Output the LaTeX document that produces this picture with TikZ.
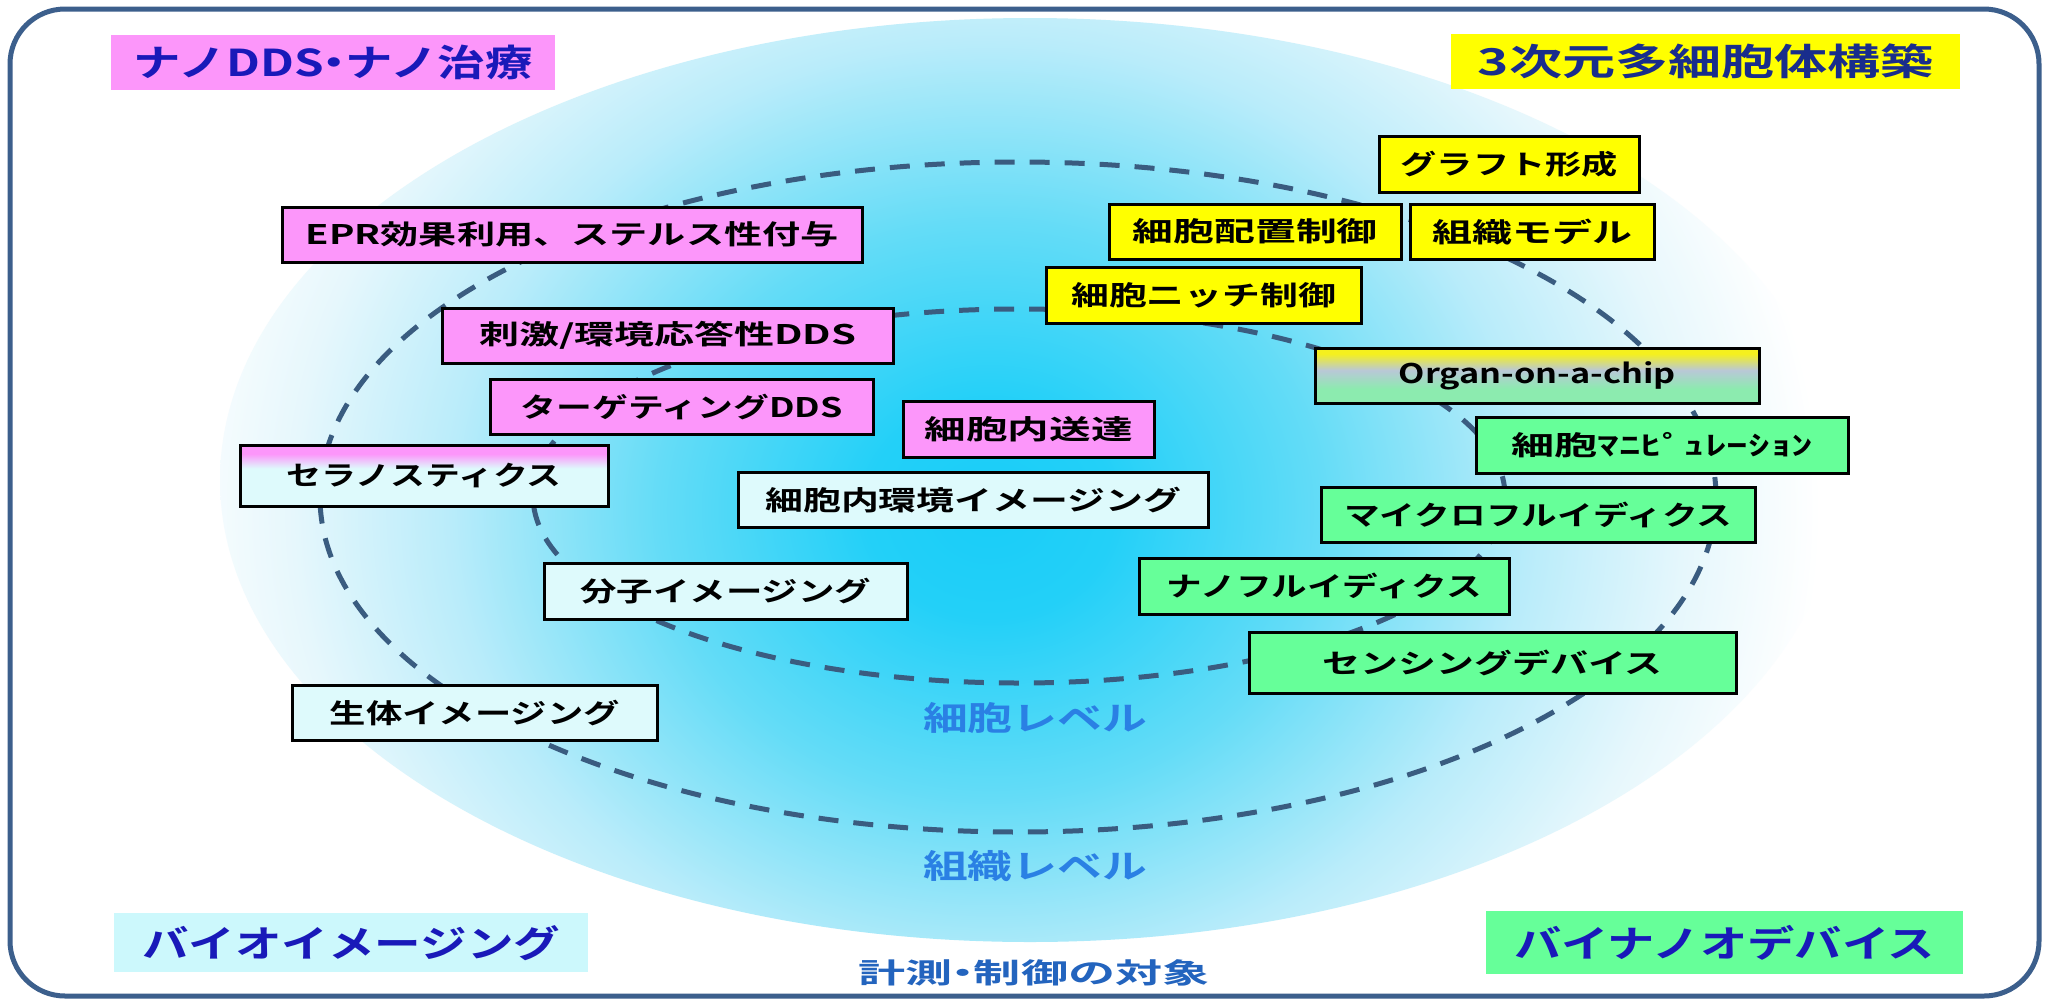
\documentclass[tikz,border=0pt]{standalone}
\usepackage{fontspec}
\setmainfont{Noto Sans CJK JP}[BoldFont={Noto Sans CJK JP Bold}]
\usepackage{graphicx}
\definecolor{frameblue}{RGB}{60,95,140}
\definecolor{dashc}{RGB}{58,92,128}
\definecolor{pinkf}{RGB}{252,150,250}
\definecolor{yellowf}{RGB}{255,255,0}
\definecolor{greenf}{RGB}{102,255,153}
\definecolor{lcyanf}{RGB}{222,250,252}
\definecolor{labcyan}{RGB}{204,248,252}
\definecolor{navyA}{RGB}{25,25,185}
\definecolor{navyB}{RGB}{25,45,140}
\definecolor{levelblue}{RGB}{42,128,228}
\definecolor{keisoku}{RGB}{35,100,190}
\definecolor{glowA}{RGB}{25,205,248}
\definecolor{glowAA}{RGB}{35,208,248}
\definecolor{glowB}{RGB}{100,220,247}
\definecolor{glowC}{RGB}{185,236,250}
\definecolor{glowD}{RGB}{230,247,252}
\definecolor{orgY}{RGB}{245,240,30}
\definecolor{orgM}{RGB}{185,200,215}
\definecolor{orgG}{RGB}{140,235,175}
\pgfdeclareradialshading{glowshade}{\pgfpoint{0bp}{0bp}}{color(0bp)=(glowA); color(3.75bp)=(glowAA); color(10bp)=(glowB); color(16.25bp)=(glowC); color(21bp)=(glowD); color(25bp)=(white); color(50bp)=(white)}
\pgfdeclareverticalshading{seranoshade}{100bp}{color(0bp)=(lcyanf); color(56bp)=(lcyanf); color(68bp)=(pinkf); color(100bp)=(pinkf)}
\pgfdeclareverticalshading{organshade}{100bp}{color(0bp)=(orgG); color(38bp)=(orgG); color(55bp)=(orgM); color(70bp)=(orgY); color(100bp)=(orgY)}
\newcommand\fitw[2]{\resizebox{#1}{\height}{#2}}
\newcommand\nakaguro{\makebox[0.45em]{・}}
\tikzset{
  bx/.style={draw=black, line width=2.5pt, inner sep=0pt, anchor=north west, text=black,
    font=\fontsize{27}{30}\selectfont\bfseries},
  pinkbox/.style={bx, fill=pinkf},
  yellowbox/.style={bx, fill=yellowf},
  greenbox/.style={bx, fill=greenf},
  cyanbox/.style={bx, fill=lcyanf},
  corner/.style={inner sep=0pt, anchor=north west, font=\fontsize{37}{40}\selectfont\bfseries},
  level/.style={inner sep=0pt, text=levelblue, font=\fontsize{33}{36}\selectfont\bfseries},
  dashring/.style={draw=dashc, line width=5pt, dash pattern=on 20pt off 15pt}
}
\begin{document}
\begin{tikzpicture}[x=1pt,y=-1pt]
\useasboundingbox (0,0) rectangle (2048,1002);
\fill[white] (0,0) rectangle (2048,1002);
% glow
\begin{scope}
\clip (1030,480) ellipse [x radius=810pt, y radius=462pt];
\shade[shading=glowshade] (990,510) ellipse [x radius=830pt, y radius=720pt];
\end{scope}
% level rings
\draw[dashring] (1018,497) ellipse [x radius=698pt, y radius=335pt];
\draw[dashring] (1019,496) ellipse [x radius=486pt, y radius=187pt];
% frame
\draw[frameblue, line width=5pt, rounded corners=55pt] (10,9) rectangle (2039,996);
% corner labels
\node[corner, fill=pinkf, text=navyA, minimum width=444pt, minimum height=55pt] (nanodds) at (111,35) {\fitw{399pt}{ナノDDS\nakaguro ナノ治療}};
\node[corner, fill=yellowf, text=navyB, minimum width=509pt, minimum height=55pt] (sanji) at (1451,34) {\fitw{456pt}{3次元多細胞体構築}};
\node[corner, fill=labcyan, text=navyA, minimum width=474pt, minimum height=59pt] (bioimg) at (114,913) {\fitw{418pt}{バイオイメージング}};
\node[corner, fill=greenf, text=navyA, minimum width=477pt, minimum height=63pt] (bionano) at (1486,911) {\fitw{421pt}{バイナノオデバイス}};
% pink boxes
\node[pinkbox, minimum width=580pt, minimum height=55pt] (epr) at (281,206) {\fitw{533pt}{EPR効果利用、ステルス性付与}};
\node[pinkbox, minimum width=451pt, minimum height=55pt] (shigeki) at (441,307) {\fitw{377pt}{刺激/環境応答性DDS}};
\node[pinkbox, minimum width=383pt, minimum height=55pt] (target) at (489,378) {\fitw{322pt}{ターゲティングDDS}};
\node[pinkbox, minimum width=251pt, minimum height=56pt] (soutatsu) at (902,400) {\fitw{208pt}{細胞内送達}};
% theranostics
\node[bx, shading=seranoshade, minimum width=368pt, minimum height=61pt] (serano) at (239,444) {\fitw{275pt}{セラノスティクス}};
% imaging boxes
\node[cyanbox, minimum width=470pt, minimum height=55pt] (kankyo) at (737,471) {\fitw{416pt}{細胞内環境イメージング}};
\node[cyanbox, minimum width=363pt, minimum height=56pt] (bunshi) at (543,562) {\fitw{291pt}{分子イメージング}};
\node[cyanbox, minimum width=365pt, minimum height=55pt] (seitai) at (291,684) {\fitw{290pt}{生体イメージング}};
% yellow boxes
\node[yellowbox, minimum width=260pt, minimum height=56pt] (graft) at (1378,135) {\fitw{217pt}{グラフト形成}};
\node[yellowbox, minimum width=292pt, minimum height=55pt] (haichi) at (1108,203) {\fitw{245pt}{細胞配置制御}};
\node[yellowbox, minimum width=244pt, minimum height=55pt] (soshiki) at (1409,203) {\fitw{200pt}{組織モデル}};
\node[yellowbox, minimum width=315pt, minimum height=56pt] (niche) at (1045,266) {\fitw{265pt}{細胞ニッチ制御}};
% organ on a chip
\node[bx, shading=organshade, minimum width=444pt, minimum height=55pt] (organ) at (1314,347) {\fitw{277pt}{Organ-on-a-chip}};
% green boxes
\node[greenbox, minimum width=372pt, minimum height=56pt] (mani) at (1475,416) {\fitw{302pt}{細胞ﾏﾆﾋﾟｭﾚｰｼｮﾝ}};
\node[greenbox, minimum width=434pt, minimum height=55pt] (micro) at (1320,486) {\fitw{388pt}{マイクロフルイディクス}};
\node[greenbox, minimum width=370pt, minimum height=56pt] (nanof) at (1138,557) {\fitw{315pt}{ナノフルイディクス}};
\node[greenbox, minimum width=487pt, minimum height=61pt] (sensing) at (1248,631) {\fitw{340pt}{センシングデバイス}};
% level labels
\node[level] (cell) at (1035,718) {\fitw{224pt}{細胞レベル}};
\node[level] (tissue) at (1035,866) {\fitw{224pt}{組織レベル}};
\node[inner sep=0pt, text=keisoku, font=\fontsize{28}{30}\selectfont\bfseries] (objective) at (1034,973) {\fitw{351pt}{計測\nakaguro 制御の対象}};
\end{tikzpicture}
\end{document}
